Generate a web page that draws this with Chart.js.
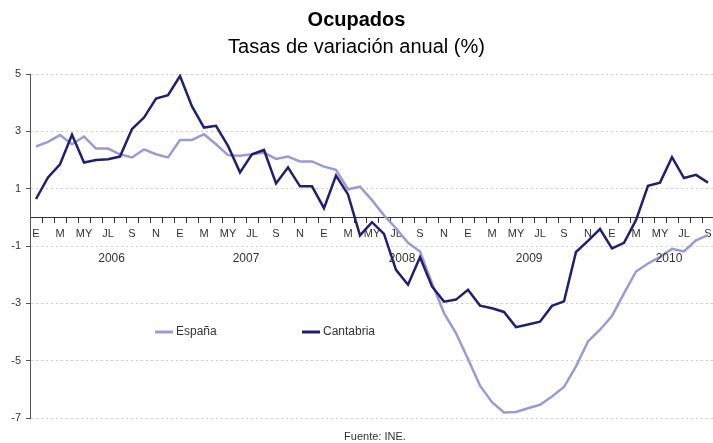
<!DOCTYPE html>
<html lang="es">
<head>
<meta charset="utf-8">
<title>Ocupados</title>
<script src="https://cdn.jsdelivr.net/npm/chart.js@4.4.1/dist/chart.umd.min.js"></script>
<style>
    html, body { margin: 0; padding: 0; background: #fff; overflow: hidden; }
    #wrap { width: 713px; height: 443px; overflow: hidden; }
    canvas { display: block; }
</style>
</head>
<body>
<div id="wrap"><canvas id="ocupadosChart" width="720" height="443"></canvas></div>
<script>
// Series mensual: enero 2006 - septiembre 2010
const years = ['2006', '2007', '2008', '2009', '2010'];
const months = ['E', 'F', 'M', 'A', 'MY', 'JN', 'JL', 'AG', 'S', 'O', 'N', 'D'];
const yTicks = [-7, -5, -3, -1, 1, 3, 5];

const espana = [
    2.47, 2.63, 2.87, 2.55, 2.82, 2.40, 2.40, 2.20, 2.09, 2.37,
    2.20, 2.09, 2.70, 2.70, 2.90, 2.55, 2.17, 2.15, 2.20, 2.26,
    2.04, 2.12, 1.95, 1.95, 1.77, 1.66, 0.98, 1.07, 0.60, 0.07,
    -0.38, -0.89, -1.19, -2.30, -3.34, -4.04, -4.94, -5.87, -6.45, -6.81,
    -6.79, -6.66, -6.54, -6.25, -5.92, -5.20, -4.33, -3.92, -3.44, -2.65,
    -1.89, -1.61, -1.38, -1.10, -1.19, -0.80, -0.62
];
const cantabria = [
    0.64, 1.39, 1.85, 2.88, 1.91, 2.00, 2.03, 2.12, 3.08, 3.48,
    4.14, 4.26, 4.93, 3.87, 3.13, 3.19, 2.49, 1.57, 2.20, 2.35,
    1.18, 1.74, 1.08, 1.08, 0.32, 1.46, 0.80, -0.63, -0.17, -0.58,
    -1.83, -2.35, -1.39, -2.41, -2.94, -2.87, -2.53, -3.08, -3.17, -3.30,
    -3.83, -3.74, -3.64, -3.09, -2.93, -1.21, -0.82, -0.41, -1.08, -0.89,
    -0.10, 1.10, 1.21, 2.10, 1.37, 1.48, 1.21
];

const colorEspana = '#9c9ad6';
const colorCantabria = '#1f216e';
const textColor = '#333';
const font = 'Liberation Sans, Arial, sans-serif';

// one label per month, e.g. "E 2006"
const labels = [];
const labelYear = [];
espana.forEach((v, i) => {
    labels.push(months[i % 12] + ' ' + years[Math.floor(i / 12)]);
    labelYear.push(Math.floor(i / 12));
});

// titles, year row, legend and source note
const decorations = {
    id: 'decorations',
    afterDraw(chart, args, opts) {
        const ctx = chart.ctx;
        const x = chart.scales.x;
        const cx = 356.5;
        ctx.save();
        ctx.fillStyle = '#000';
        ctx.textAlign = 'center';
        ctx.textBaseline = 'middle';
        ctx.font = 'bold 20px ' + font;
        ctx.fillText('Ocupados', cx, 20);
        ctx.font = '20px ' + font;
        ctx.fillText('Tasas de variación anual (%)', cx, 47);

        // year names under the month ticks
        ctx.fillStyle = textColor;
        ctx.font = '12px ' + font;
        years.forEach((yr, k) => {
            const idx = labelYear.map((y, i) => y === k ? i : -1).filter(i => i >= 0);
            const mid = (idx[0] + idx[idx.length - 1]) / 2 + opts.yearNudge[k];
            ctx.fillText(yr, x.getPixelForValue(mid), 259);
        });

        // legend
        const items = [
            { text: 'España', color: colorEspana, x: 155 },
            { text: 'Cantabria', color: colorCantabria, x: 302 }
        ];
        ctx.textAlign = 'left';
        items.forEach(it => {
            ctx.strokeStyle = it.color;
            ctx.lineWidth = 3;
            ctx.beginPath();
            ctx.moveTo(it.x, 332);
            ctx.lineTo(it.x + 18, 332);
            ctx.stroke();
            ctx.fillStyle = textColor;
            ctx.fillText(it.text, it.x + 21, 332);
        });

        ctx.textAlign = 'center';
        ctx.font = '11px ' + font;
        ctx.fillText('Fuente: INE.', 375, 437);
        ctx.restore();
    }
};

const ctx = document.getElementById('ocupadosChart').getContext('2d');
new Chart(ctx, {
    type: 'line',
    data: {
        labels: labels,
        datasets: [{
            label: 'España',
            data: espana,
            borderColor: colorEspana,
            borderWidth: 2.5,
            pointRadius: 0,
            tension: 0,
            order: 1
        }, {
            label: 'Cantabria',
            data: cantabria,
            borderColor: colorCantabria,
            borderWidth: 2.5,
            pointRadius: 0,
            tension: 0,
            order: 0
        }]
    },
    options: {
        responsive: false,
        animation: false,
        layout: {
            padding: { top: 74, bottom: 25, left: 0, right: 6 }
        },
        plugins: {
            legend: { display: false },
            tooltip: { enabled: false },
            decorations: { yearNudge: [0.8, 0, 1, -0.4, 0.75] }
        },
        scales: {
            x: {
                position: { y: 0 },
                offset: true,
                grid: {
                    offset: true,
                    drawOnChartArea: false,
                    drawTicks: true,
                    tickLength: 5,
                    tickColor: '#333'
                },
                border: { color: '#333', width: 1 },
                ticks: {
                    autoSkip: false,
                    maxRotation: 0,
                    padding: 5,
                    color: textColor,
                    font: { family: font, size: 11 },
                    callback: (v, i) => i % 2 === 0 ? months[i % 12] : ''
                }
            },
            y: {
                min: yTicks[0],
                max: yTicks[yTicks.length - 1],
                afterFit: (scale) => { scale.width = 30; },
                afterBuildTicks: (scale) => {
                    scale.ticks = yTicks.map(v => ({ value: v }));
                },
                grid: {
                    color: '#cfcfcf',
                    tickColor: '#555',
                    tickLength: 4,
                    tickBorderDash: []
                },
                border: { color: '#555', width: 1, dash: [2, 3] },
                ticks: {
                    padding: 5,
                    color: textColor,
                    font: { family: font, size: 11 }
                }
            }
        }
    },
    plugins: [decorations]
});
</script>
</body>
</html>
